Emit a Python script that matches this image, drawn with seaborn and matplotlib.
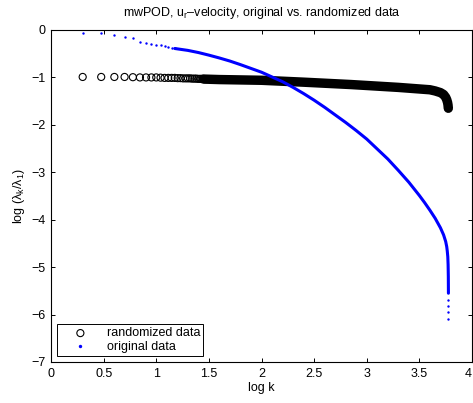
import matplotlib
matplotlib.use("Agg")
import matplotlib.pyplot as plt
import seaborn as sns
import pandas as pd

# randomized data: separate circles for the first k, then the dense band
rand_logk = [0.301, 0.477, 0.602, 0.699, 0.778, 0.845, 0.903, 0.954, 1.0, 1.041,
             1.079, 1.114, 1.146, 1.176, 1.204, 1.230, 1.255, 1.279, 1.301, 1.322,
             1.342, 1.362, 1.380, 1.398, 1.415, 1.431, 1.447, 1.462, 1.477]
rand_logl = [-0.99, -0.99, -0.99, -0.99, -0.995, -1.0, -1.0, -1.0, -1.0, -1.005,
             -1.01, -1.01, -1.01, -1.01, -1.015, -1.015, -1.02, -1.02, -1.02, -1.02,
             -1.025, -1.025, -1.025, -1.03, -1.03, -1.03, -1.03, -1.035, -1.035]
rand_band_logk = [1.45, 1.60, 2.0, 2.40, 2.85, 3.30, 3.60, 3.65, 3.70, 3.73, 3.75,
                  3.76, 3.768, 3.772, 3.775]
rand_band_logl = [-1.035, -1.045, -1.06, -1.10, -1.15, -1.21, -1.26, -1.285, -1.32,
                  -1.36, -1.42, -1.47, -1.53, -1.58, -1.65]

# original data: separate dots for the first k (and the last ones), then the dense curve
orig_logk = [0.301, 0.477, 0.602, 0.699, 0.778, 0.845, 0.903, 0.954, 1.0, 1.041,
             1.079, 1.114, 1.146, 1.176, 3.776, 3.776, 3.776, 3.776]
orig_logl = [-0.06, -0.07, -0.11, -0.14, -0.16, -0.25, -0.27, -0.29, -0.31, -0.32,
             -0.34, -0.36, -0.37, -0.39, -5.70, -5.82, -5.94, -6.10]
orig_curve_logk = [1.176, 1.3, 1.4, 1.5, 1.6, 1.7, 1.8, 1.9, 2.0, 2.1, 2.2, 2.3, 2.4,
                   2.5, 2.6, 2.7, 2.8, 2.9, 3.0, 3.1, 3.2, 3.3, 3.4, 3.5, 3.55, 3.6,
                   3.65, 3.7, 3.73, 3.75, 3.76, 3.765, 3.77, 3.773, 3.775, 3.776]
orig_curve_logl = [-0.39, -0.43, -0.475, -0.53, -0.59, -0.655, -0.73, -0.81, -0.89,
                   -0.99, -1.09, -1.21, -1.34, -1.48, -1.63, -1.79, -1.95, -2.12,
                   -2.30, -2.51, -2.72, -2.96, -3.21, -3.49, -3.64, -3.80, -3.97,
                   -4.17, -4.32, -4.46, -4.57, -4.66, -4.78, -4.95, -5.2, -5.55]
x_ticks = [0, 0.5, 1, 1.5, 2, 2.5, 3, 3.5, 4]
x_tick_labels = ["0", "0.5", "1", "1.5", "2", "2.5", "3", "3.5", "4"]

plt.rcParams['font.family'] = ['Liberation Sans', 'DejaVu Sans']
plt.rcParams['mathtext.fontset'] = 'custom'
plt.rcParams['mathtext.rm'] = 'Liberation Sans'
plt.rcParams['mathtext.it'] = 'Liberation Sans'
plt.rcParams['mathtext.default'] = 'regular'

fig = plt.figure(figsize=(4.73, 4.03), dpi=100)
ax = fig.add_axes([51/473, 1 - 362/403, 421/473, 332/403])

rand_df = pd.DataFrame({"x": rand_logk, "y": rand_logl})
band_df = pd.DataFrame({"x": rand_band_logk, "y": rand_band_logl})
orig_df = pd.DataFrame({"x": orig_logk, "y": orig_logl})
curve_df = pd.DataFrame({"x": orig_curve_logk, "y": orig_curve_logl})

sns.lineplot(data=band_df, x="x", y="y", sort=False, estimator=None, color="black",
             lw=6.8, solid_capstyle="round", solid_joinstyle="round", ax=ax, legend=False)
sns.scatterplot(data=rand_df, x="x", y="y", marker="o", s=26, facecolor="none",
                edgecolor="black", linewidth=0.8, ax=ax, label="randomized data")
sns.lineplot(data=curve_df, x="x", y="y", sort=False, estimator=None, color="blue",
             lw=2.2, solid_capstyle="round", solid_joinstyle="round", ax=ax, legend=False)
sns.scatterplot(data=orig_df, x="x", y="y", marker="o", s=3, color="blue",
                linewidth=0, ax=ax, label="original data")

ax.set_xlim(0, 4)
ax.set_ylim(-7, 0)
ax.set_xticks(x_ticks)
ax.set_xticklabels(x_tick_labels)
ax.get_xticklabels()[-1].set_horizontalalignment("right")
ax.set_yticks(range(-7, 1))
ax.tick_params(direction="in", top=True, right=True, length=3, width=0.7,
               labelsize=9, pad=4)
for sp in ax.spines.values():
    sp.set_linewidth(0.8)

ax.set_xlabel("log k", fontsize=9, labelpad=2)
ax.set_ylabel(r"log ($\lambda_k/\lambda_1$)", fontsize=9, labelpad=3)
ax.set_title(r"mwPOD, u$_r$–velocity, original vs. randomized data", fontsize=9, pad=10)

leg = ax.legend(loc="lower left", fontsize=9, fancybox=False, framealpha=1,
                edgecolor="black", borderaxespad=0.5, handletextpad=0.5,
                borderpad=0.25, labelspacing=0.1, handlelength=3.2)
leg.get_frame().set_linewidth(0.7)
for h in leg.legend_handles:
    h.set_sizes([26]) if h.get_label() == "randomized data" else h.set_sizes([6])

fig.savefig("out.png", dpi=100)
